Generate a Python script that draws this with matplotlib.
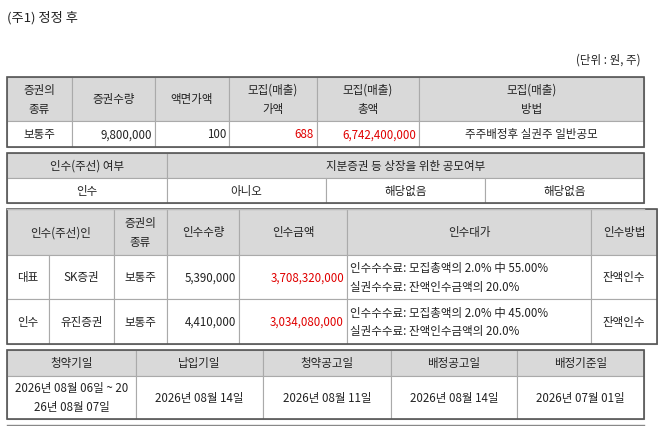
import matplotlib
matplotlib.use("Agg")
import matplotlib.pyplot as plt
from matplotlib.patches import Rectangle

plt.rcParams['font.family'] = ['Noto Sans CJK KR', 'DejaVu Sans']

title = "(주1) 정정 후"
unit = "(단위 : 원, 주)"
t1_header = ["증권의\n종류", "증권수량", "액면가액", "모집(매출)\n가액", "모집(매출)\n총액", "모집(매출)\n방법"]
t1_row = ["보통주", "9,800,000", "100", "688", "6,742,400,000", "주주배정후 실권주 일반공모"]
t2_header = ["인수(주선) 여부", "지분증권 등 상장을 위한 공모여부"]
t2_row = ["인수", "아니오", "해당없음", "해당없음"]
t3_header = ["인수(주선)인", "증권의\n종류", "인수수량", "인수금액", "인수대가", "인수방법"]
t3_roles = ["대표", "인수"]
t3_names = ["SK증권", "유진증권"]
t3_kind = ["보통주", "보통주"]
t3_qty = ["5,390,000", "4,410,000"]
t3_amt = ["3,708,320,000", "3,034,080,000"]
t3_fee = ["인수수수료: 모집총액의 2.0% 中 55.00%\n실권수수료: 잔액인수금액의 20.0%",
          "인수수수료: 모집총액의 2.0% 中 45.00%\n실권수수료: 잔액인수금액의 20.0%"]
t3_method = ["잔액인수", "잔액인수"]
t4_header = ["청약기일", "납입기일", "청약공고일", "배정공고일", "배정기준일"]
t4_row = ["2026년 08월 06일 ~ 20\n26년 08월 07일", "2026년 08월 14일", "2026년 08월 11일",
          "2026년 08월 14일", "2026년 07월 01일"]

W, H = 658, 427
fig = plt.figure(figsize=(W/100, H/100), dpi=100)
ax = fig.add_axes([0, 0, 1, 1])
ax.set_xlim(0, W); ax.set_ylim(H, 0); ax.axis('off')

HDR = '#d9d9d9'; LINE = '#aaaaaa'; OUT = '#555555'; RED = '#e00000'
FS = 8.3

def cell(x0, x1, y0, y1, txt, fill='white', ha='center', color='#222222', ls=1.25):
    ax.add_patch(Rectangle((x0, y0), x1-x0, y1-y0, facecolor=fill, edgecolor=LINE, lw=0.8))
    if ha == 'center':
        tx = (x0+x1)/2
    elif ha == 'right':
        tx = x1-3
    else:
        tx = x0+3
    ax.text(tx, (y0+y1)/2, txt, ha=ha, va='center', fontsize=FS, color=color, linespacing=ls)

def outline(x0, x1, y0, y1):
    ax.add_patch(Rectangle((x0, y0), x1-x0, y1-y0, facecolor='none', edgecolor=OUT, lw=1.2))

ax.text(7, 18, title, fontsize=9.5, va='center', ha='left', color='#222222')
ax.text(641, 60, unit, fontsize=FS, va='center', ha='right', color='#222222')

# table 1
xs = [7, 72, 155, 229, 317, 419, 644]
for i, h in enumerate(t1_header):
    cell(xs[i], xs[i+1], 78, 122, h, fill=HDR, ls=1.6)
aligns = ['center', 'right', 'right', 'right', 'right', 'center']
colors = ['#222222', '#222222', '#222222', RED, RED, '#222222']
for i, v in enumerate(t1_row):
    cell(xs[i], xs[i+1], 122, 148, v, ha=aligns[i], color=colors[i])
outline(7, 644, 78, 148)

# table 2
xs2 = [7, 167, 326, 485, 644]
cell(7, 167, 154, 179, t2_header[0], fill=HDR)
cell(167, 644, 154, 179, t2_header[1], fill=HDR)
for i, v in enumerate(t2_row):
    cell(xs2[i], xs2[i+1], 179, 204, v)
outline(7, 644, 154, 204)
ax.plot([7, 644], [210, 210], color='#bbbbbb', lw=1)

# table 3
xs3 = [7, 49, 114, 167, 239, 347, 591, 657]
cell(7, 114, 210, 256, t3_header[0], fill=HDR)
for i in range(1, 6):
    cell(xs3[i+1], xs3[i+2], 210, 256, t3_header[i], fill=HDR, ls=1.6)
rows = [(256, 300), (300, 345)]
for r, (y0, y1) in enumerate(rows):
    cell(xs3[0], xs3[1], y0, y1, t3_roles[r])
    cell(xs3[1], xs3[2], y0, y1, t3_names[r])
    cell(xs3[2], xs3[3], y0, y1, t3_kind[r])
    cell(xs3[3], xs3[4], y0, y1, t3_qty[r], ha='right')
    cell(xs3[4], xs3[5], y0, y1, t3_amt[r], ha='right', color=RED)
    cell(xs3[5], xs3[6], y0, y1, t3_fee[r], ha='left', ls=1.55)
    cell(xs3[6], xs3[7], y0, y1, t3_method[r])
outline(7, 657, 210, 345)

# table 4
xs4 = [7, 136, 263, 391, 517, 644]
for i, h in enumerate(t4_header):
    cell(xs4[i], xs4[i+1], 351, 377, h, fill=HDR)
for i, v in enumerate(t4_row):
    cell(xs4[i], xs4[i+1], 377, 420, v, ls=1.6)
outline(7, 644, 351, 420)
ax.plot([7, 644], [426, 426], color='#888888', lw=1)

fig.savefig('out.png', dpi=100)
